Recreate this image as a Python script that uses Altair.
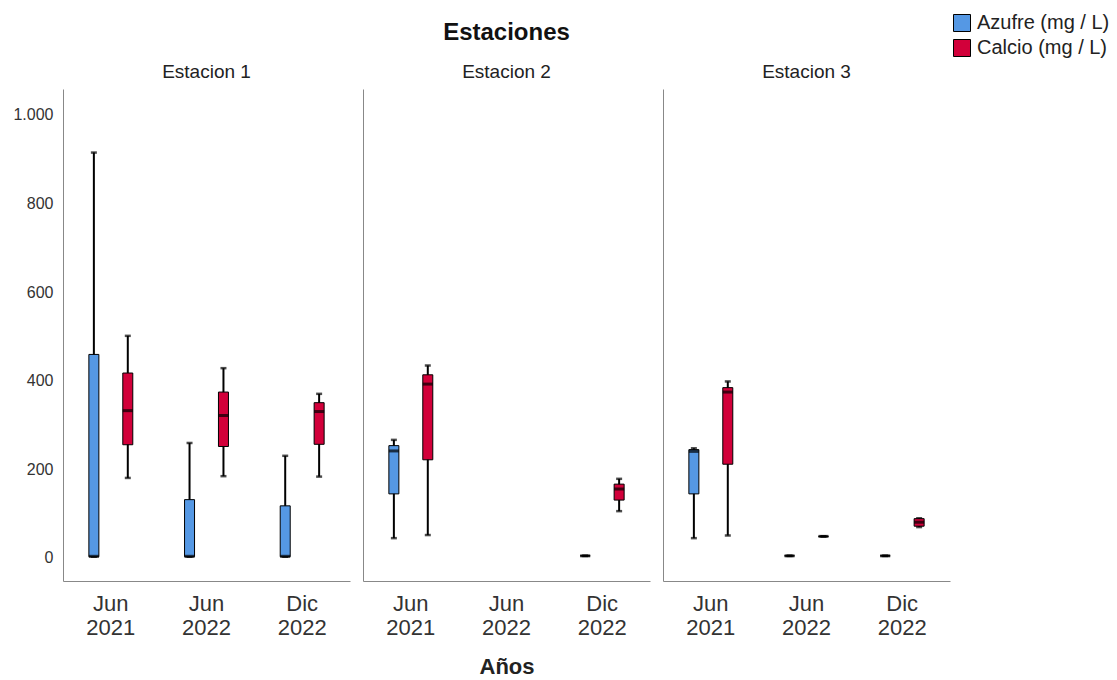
import altair as alt
import pandas as pd

# Box-plot summaries per station, sampling date and variable
estaciones = ["Estacion 1"] * 6 + ["Estacion 2"] * 4 + ["Estacion 3"] * 6
fechas = [
    "Jun 2021", "Jun 2021", "Jun 2022", "Jun 2022", "Dic 2022", "Dic 2022",
    "Jun 2021", "Jun 2021", "Dic 2022", "Dic 2022",
    "Jun 2021", "Jun 2021", "Jun 2022", "Jun 2022", "Dic 2022", "Dic 2022",
]
AZ = "Azufre (mg / L)"
CA = "Calcio (mg / L)"
variables = [AZ, CA] * 8
minimos = [2, 180, 2, 184, 2, 183, 44, 51, 4, 105, 44, 50, 4, 48, 4, 69]
q1s = [2, 255, 2, 251, 2, 256, 144, 221, 4, 130, 144, 211, 4, 48, 4, 71]
medianas = [3, 332, 3, 321, 3, 330, 241, 392, 4, 155, 240, 374, 4, 48, 4, 80]
q3s = [459, 417, 131, 374, 117, 350, 253, 413, 4, 166, 244, 384, 4, 48, 4, 88]
maximos = [915, 501, 259, 428, 230, 370, 266, 434, 4, 178, 247, 398, 4, 48, 4, 89]

orden_fechas = ["Jun 2021", "Jun 2022", "Dic 2022"]
colores = ["#5598e4", "#d2003a"]

df = pd.DataFrame({
    "estacion": estaciones,
    "fecha": fechas,
    "variable": variables,
    "min": minimos,
    "q1": q1s,
    "mediana": medianas,
    "q3": q3s,
    "max": maximos,
})

W, H = 287, 492
FONT = "Liberation Sans"


def panel(nombre, first, middle):
    base = alt.Chart(df[df.estacion == nombre])
    x = alt.X(
        "fecha:N",
        sort=orden_fechas,
        scale=alt.Scale(domain=orden_fechas, paddingInner=0, paddingOuter=0),
        axis=alt.Axis(
            title="Años" if middle else None,
            labelExpr="split(datum.label, ' ')",
            labelAngle=0,
            ticks=False,
            labelPadding=12,
            labelFontSize=22,
            labelLineHeight=24,
            labelColor="#333333",
            labelFont=FONT,
            titleFontSize=22,
            titleFontWeight="bold",
            titleFont=FONT,
            titleColor="#222222",
            titlePadding=18,
            domainColor="#888888",
        ),
    )
    xo = alt.XOffset(
        "variable:N",
        sort=[AZ, CA],
        scale=alt.Scale(domain=[AZ, CA], paddingInner=0.7, paddingOuter=0.76),
    )
    y_axis = alt.Axis(
        title=None,
        values=[0, 200, 400, 600, 800, 1000],
        labelExpr="replace(format(datum.value, ','), ',', '.')",
        labels=first,
        ticks=False,
        grid=False,
        labelPadding=10,
        labelFontSize=16,
        labelColor="#333333",
        labelFont=FONT,
        domainColor="#888888",
    )
    yscale = alt.Scale(domain=[-52.8, 1058.6], nice=False, zero=False)

    whisker = base.mark_rule(color="black", strokeWidth=2).encode(
        x=x, xOffset=xo,
        y=alt.Y("min:Q", scale=yscale, axis=y_axis),
        y2="max:Q",
    )
    caps_top = base.mark_tick(color="black", size=6, thickness=2.5).encode(
        x=x, xOffset=xo, y=alt.Y("max:Q", scale=yscale)
    )
    caps_bot = base.mark_tick(color="black", size=6, thickness=2.5).encode(
        x=x, xOffset=xo, y=alt.Y("min:Q", scale=yscale)
    )
    box = base.mark_bar(size=10, stroke="black", strokeWidth=1).encode(
        x=x, xOffset=xo,
        y=alt.Y("q1:Q", scale=yscale),
        y2="q3:Q",
        color=alt.Color(
            "variable:N",
            scale=alt.Scale(domain=[AZ, CA], range=colores),
            legend=alt.Legend(
                title=None,
                orient="none",
                legendX=889,
                legendY=-76,
                symbolType="square",
                symbolSize=289,
                symbolStrokeColor="black",
                symbolStrokeWidth=1,
                labelFontSize=20,
                labelFont=FONT,
                labelColor="#222222",
                labelOffset=5,
                rowPadding=3,
            ),
        ),
    )
    med = base.mark_tick(color="black", size=10, thickness=3).encode(
        x=x, xOffset=xo, y=alt.Y("mediana:Q", scale=yscale)
    )
    # The middle panel carries the overall heading above its station name
    return alt.layer(whisker, caps_top, caps_bot, box, med).properties(
        width=W, height=H,
        title=alt.TitleParams(
            "Estaciones" if middle else " ",
            subtitle=nombre,
            fontSize=24, fontWeight="bold", font=FONT, color="#111111",
            subtitleFontSize=19, subtitleFont=FONT, subtitleColor="#222222",
            subtitlePadding=18, offset=7, anchor="middle",
        ),
    )


chart = alt.hconcat(
    panel("Estacion 1", True, False),
    panel("Estacion 2", False, True),
    panel("Estacion 3", False, False),
    spacing=13,
).properties(
    padding={"left": 12, "top": 13, "right": 2, "bottom": 2},
).configure(background="white").configure_view(strokeWidth=0, stroke="transparent")

chart.save("out.html", embed_options={"renderer": "svg", "actions": False})
